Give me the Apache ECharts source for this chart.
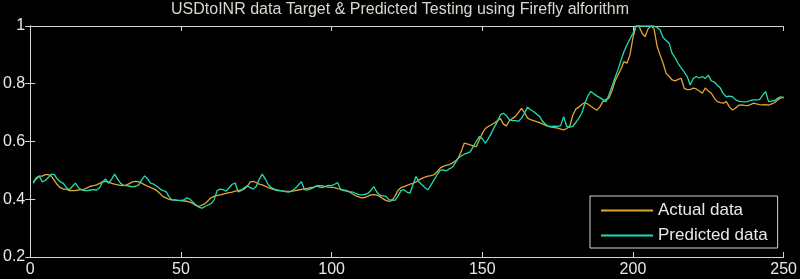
<!DOCTYPE html>
<html>
<head>
<meta charset="utf-8">
<script src="https://cdn.jsdelivr.net/npm/echarts@6/dist/echarts.min.js"></script>
<style>
html,body{margin:0;padding:0;background:#000;}
#chart{width:800px;height:279px;}
</style>
</head>
<body>
<div id="chart"></div>
<script>
const titleText = 'USDtoINR data Target & Predicted Testing using Firefly alforithm';
const seriesNames = ['Actual data', 'Predicted data'];
const xTicks = [0, 50, 100, 150, 200, 250];
const yTicks = [0.2, 0.4, 0.6, 0.8, 1];

const actual = [
0.46,0.47,0.48,0.48,0.485,0.485,0.48,0.465,0.45,0.44,
0.435,0.435,0.43,0.43,0.43,0.432,0.433,0.435,0.44,0.445,
0.447,0.45,0.455,0.46,0.462,0.46,0.455,0.452,0.45,0.448,
0.447,0.45,0.455,0.46,0.462,0.46,0.456,0.45,0.445,0.44,
0.436,0.43,0.42,0.41,0.405,0.4,0.398,0.398,0.396,0.395,
0.394,0.393,0.39,0.385,0.378,0.375,0.38,0.385,0.395,0.405,
0.41,0.413,0.415,0.418,0.42,0.423,0.425,0.428,0.43,0.432,
0.435,0.445,0.46,0.462,0.458,0.452,0.45,0.445,0.44,0.436,
0.433,0.43,0.43,0.428,0.427,0.427,0.428,0.43,0.432,0.434,
0.436,0.438,0.44,0.442,0.445,0.447,0.446,0.444,0.442,0.441,
0.44,0.437,0.435,0.432,0.43,0.425,0.418,0.412,0.408,0.405,
0.406,0.41,0.415,0.416,0.414,0.41,0.402,0.396,0.393,0.395,
0.41,0.43,0.44,0.444,0.448,0.452,0.455,0.46,0.467,0.472,
0.477,0.48,0.482,0.485,0.495,0.508,0.514,0.517,0.52,0.525,
0.532,0.542,0.565,0.594,0.592,0.588,0.585,0.582,0.605,0.628,
0.645,0.652,0.658,0.664,0.672,0.68,0.66,0.654,0.672,0.68,
0.687,0.7,0.715,0.7,0.681,0.676,0.672,0.669,0.665,0.661,
0.656,0.652,0.65,0.648,0.646,0.643,0.64,0.645,0.652,0.69,
0.712,0.719,0.728,0.735,0.73,0.722,0.715,0.708,0.72,0.738,
0.745,0.75,0.775,0.808,0.83,0.85,0.877,0.871,0.9,0.96,
1.0,1.0,0.975,0.963,0.99,1.0,0.99,0.93,0.9,0.871,
0.836,0.825,0.813,0.81,0.815,0.819,0.784,0.78,0.78,0.785,
0.782,0.775,0.767,0.785,0.775,0.767,0.75,0.738,0.735,0.733,
0.738,0.72,0.709,0.715,0.725,0.727,0.725,0.724,0.728,0.733,
0.73,0.728,0.727,0.728,0.726,0.73,0.735,0.744,0.75,0.755
];

const predicted = [
0.455,0.475,0.48,0.46,0.465,0.475,0.487,0.485,0.47,0.46,
0.455,0.44,0.433,0.445,0.456,0.44,0.433,0.43,0.43,0.432,
0.433,0.432,0.44,0.46,0.47,0.455,0.47,0.487,0.47,0.455,
0.448,0.447,0.445,0.443,0.445,0.45,0.468,0.481,0.47,0.455,
0.452,0.445,0.436,0.43,0.427,0.41,0.398,0.397,0.396,0.396,
0.398,0.405,0.4,0.39,0.38,0.372,0.369,0.375,0.38,0.385,
0.398,0.43,0.435,0.433,0.428,0.44,0.452,0.456,0.425,0.43,
0.44,0.447,0.44,0.435,0.445,0.47,0.487,0.47,0.45,0.44,
0.435,0.432,0.43,0.428,0.426,0.425,0.43,0.438,0.45,0.461,
0.433,0.432,0.436,0.44,0.447,0.442,0.44,0.445,0.448,0.447,
0.452,0.458,0.433,0.43,0.428,0.426,0.425,0.42,0.416,0.415,
0.417,0.42,0.43,0.444,0.425,0.414,0.412,0.41,0.399,0.398,
0.396,0.41,0.43,0.433,0.425,0.421,0.45,0.479,0.46,0.45,
0.44,0.433,0.45,0.467,0.485,0.5,0.502,0.498,0.505,0.51,
0.525,0.542,0.55,0.556,0.56,0.564,0.582,0.6,0.617,0.61,
0.594,0.61,0.629,0.65,0.669,0.692,0.698,0.69,0.675,0.672,
0.672,0.67,0.68,0.698,0.719,0.71,0.704,0.695,0.687,0.67,
0.66,0.652,0.652,0.653,0.652,0.655,0.686,0.652,0.65,0.652,
0.665,0.68,0.698,0.73,0.758,0.773,0.765,0.758,0.752,0.745,
0.738,0.76,0.79,0.82,0.848,0.88,0.911,0.934,0.955,0.975,
1.0,1.0,1.0,1.0,1.0,1.0,1.0,0.995,0.986,0.96,
0.95,0.94,0.905,0.89,0.87,0.855,0.84,0.825,0.796,0.818,
0.825,0.82,0.825,0.818,0.83,0.81,0.806,0.795,0.785,0.765,
0.755,0.757,0.755,0.745,0.74,0.738,0.737,0.738,0.742,0.744,
0.744,0.745,0.76,0.773,0.738,0.74,0.742,0.75,0.755,0.75
];

const toPairs = arr => arr.map((v, i) => [i + 1, v]);
const axisColor = '#d4d4d4';
const font = 'Liberation Sans, Arial, sans-serif';
const colors = ['#e0a634', '#22dcb4'];

const chart = echarts.init(document.getElementById('chart'), null, {renderer: 'canvas'});
const baseX = {
  type: 'value', min: xTicks[0], max: xTicks[xTicks.length - 1], interval: 50,
  splitLine: {show: false},
  axisLine: {show: true, lineStyle: {color: axisColor, width: 1}},
  axisTick: {show: true, inside: true, length: 5, lineStyle: {color: axisColor}}
};
const baseY = {
  type: 'value', min: yTicks[0], max: yTicks[yTicks.length - 1], interval: 0.2,
  splitLine: {show: false},
  axisLine: {show: true, lineStyle: {color: axisColor, width: 1}},
  axisTick: {show: true, inside: true, length: 5, lineStyle: {color: axisColor}}
};
chart.setOption({
  backgroundColor: '#000000',
  animation: false,
  title: {
    text: titleText, left: 'center', top: -3,
    textStyle: {color: '#d8d8d0', fontSize: 16, fontWeight: 'normal', fontFamily: font}
  },
  grid: {left: 29, right: 14, top: 26, bottom: 22, containLabel: false},
  xAxis: [
    Object.assign({}, baseX, {position: 'bottom',
      axisLabel: {color: '#e8e8e8', fontSize: 16, fontFamily: font, margin: 5,
        formatter: v => String(v)}}),
    Object.assign({}, baseX, {position: 'top', axisLabel: {show: false}})
  ],
  yAxis: [
    Object.assign({}, baseY, {position: 'left',
      axisLabel: {color: '#e8e8e8', fontSize: 16, fontFamily: font, margin: 5,
        formatter: v => String(Math.round(v * 10) / 10)}}),
    Object.assign({}, baseY, {position: 'right', axisLabel: {show: false}})
  ],
  legend: {
    data: seriesNames,
    left: 590, top: 196,
    orient: 'vertical',
    backgroundColor: '#000',
    borderColor: axisColor, borderWidth: 1,
    padding: [6, 10, 4, 10],
    itemGap: 8,
    itemWidth: 52, itemHeight: 14,
    itemStyle: {opacity: 0},
    textStyle: {color: '#e8e8e8', fontSize: 17, lineHeight: 17, fontFamily: font}
  },
  series: [
    {name: seriesNames[0], type: 'line', data: toPairs(actual), symbol: 'none',
      lineStyle: {color: colors[0], width: 1.3}, itemStyle: {color: colors[0]}},
    {name: seriesNames[1], type: 'line', data: toPairs(predicted), symbol: 'none',
      lineStyle: {color: colors[1], width: 1.3}, itemStyle: {color: colors[1]}}
  ]
});
</script>
</body>
</html>
